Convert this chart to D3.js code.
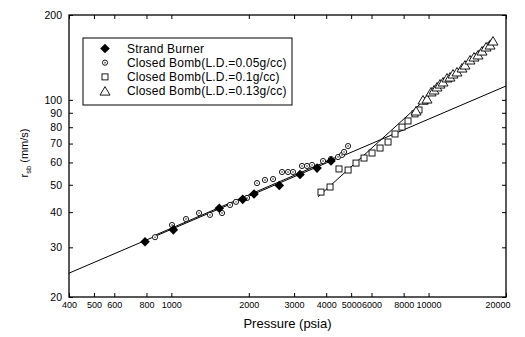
<!DOCTYPE html>
<html><head><meta charset="utf-8">
<script src="https://cdn.jsdelivr.net/npm/d3@7"></script>
<style>
body{margin:0;background:#fff;}
text{font-family:"Liberation Sans",Arial,sans-serif;fill:#000;}
</style></head>
<body><svg id="c" width="525" height="337"></svg>
<script>
// ---- data ----
const xTicks = [400,500,600,800,1000,2000,3000,4000,5000,6000,8000,10000,20000];
const yTicks = [20,30,40,50,60,70,80,90,100,200];
const seriesNames = ["Strand Burner","Closed Bomb(L.D.=0.05g/cc)","Closed Bomb(L.D.=0.1g/cc)","Closed Bomb(L.D.=0.13g/cc)"];
const strandP = [790,1018,1536,1894,2096,2628,3164,3685,4175];
const strandR = [31.4,34.6,41.3,44.4,46.4,49.7,54.4,57.3,60.7];
const ld005P = [864,1006,1140,1281,1413,1574,1691,1784,1969,2153,2312,2485,2693,2842,2971,3221,3368,3523,3888,4175,4445,4608,4693,4865];
const ld005R = [32.6,36.0,37.8,39.7,39.1,39.7,42.4,43.5,44.9,50.7,52.0,52.4,55.5,55.5,55.5,58.3,58.3,58.8,60.7,61.7,62.7,63.8,65.4,68.6];
const ld01P = [3817,4139,4485,4865,5223,5611,6028,6476,6957,7405,7883,8319,8857,9179,9687];
const ld01R = [47.1,49.1,56.9,56.4,59.7,62.2,64.8,67.5,70.9,75.7,80.1,84.2,89.2,92.1,99.1];
const ld013P = [8939,9513,9864,10226,10503,10788,11080,11383,11796,12115,12447,12899,13490,13857,14491,15019,15568,16136,16727,17339,17805];
const ld013R = [91.3,99.9,100.7,106.7,108.4,111.1,113.8,115.7,119.6,120.5,123.5,125.6,129.7,132.9,138.5,141.9,144.3,149.0,154.0,156.5,161.7];
// fitted lines (end points)
const fitStrandP = [400,20000], fitStrandR = [24.3,112];
const fitLd005P = [850,4500], fitLd005R = [32.9,63.3];
const fitBombP = [3717,17800], fitBombR = [45.3,165.7];

// ---- layout ----
const L=69,R=506,T=15,B=297;
const svg=d3.select("#c");
const x=d3.scaleLog().domain([400,20000]).range([L,R]);
const y=d3.scaleLog().domain([20,200]).range([B,T]);

// axes
const ax=svg.append("g").attr("transform",`translate(0,${B})`)
  .call(d3.axisBottom(x).tickValues(xTicks).tickFormat(d3.format("d")).tickSizeInner(-4).tickSizeOuter(0).tickPadding(5));
ax.select(".domain").remove();
ax.selectAll("text").attr("font-size",9).attr("font-family","Liberation Sans, Arial, sans-serif");
ax.selectAll("text").filter(d=>d===20000).attr("text-anchor","end").attr("dx",4);
const axT=svg.append("g").attr("transform",`translate(0,${T})`)
  .call(d3.axisTop(x).tickValues(xTicks).tickFormat("").tickSizeInner(-4).tickSizeOuter(0));
axT.select(".domain").remove();
const ay=svg.append("g").attr("transform",`translate(${L},0)`)
  .call(d3.axisLeft(y).tickValues(yTicks).tickFormat(d3.format("d")).tickSizeInner(-4).tickSizeOuter(0).tickPadding(7));
ay.select(".domain").remove();
ay.selectAll("text").attr("font-size",10.5).attr("font-family","Liberation Sans, Arial, sans-serif");
const ayR=svg.append("g").attr("transform",`translate(${R},0)`)
  .call(d3.axisRight(y).tickValues(yTicks).tickFormat("").tickSizeInner(-4).tickSizeOuter(0));
ayR.select(".domain").remove();
svg.selectAll(".tick line").attr("stroke","#000").attr("stroke-width",1);

svg.append("rect").attr("x",L).attr("y",T).attr("width",R-L).attr("height",B-T)
  .attr("fill","none").attr("stroke","#000").attr("stroke-width",1.3);

// titles
svg.append("text").attr("x",(L+R)/2).attr("y",328).attr("text-anchor","middle")
  .attr("font-size",13).text("Pressure (psia)");
const yt=svg.append("text").attr("transform","translate(28,153) rotate(-90)")
  .attr("text-anchor","middle").attr("font-size",11);
yt.append("tspan").text("r");
yt.append("tspan").attr("font-size",7.5).attr("dy",3).text("sb");
yt.append("tspan").attr("dy",-3).text(" (mm/s)");

// lines
const line=d3.line().x(d=>x(d[0])).y(d=>y(d[1]));
const zip=(a,b)=>a.map((v,i)=>[v,b[i]]);
[[fitStrandP,fitStrandR],[fitLd005P,fitLd005R],[fitBombP,fitBombR]].forEach(([p,r])=>{
  svg.append("path").datum(zip(p,r)).attr("d",line).attr("fill","none").attr("stroke","#000").attr("stroke-width",1);
});

// markers
const sym={
  diamond:(g)=>g.append("path").attr("d","M0,-4.8L4.8,0L0,4.8L-4.8,0Z").attr("fill","#000"),
  circ:(g)=>{g.append("circle").attr("r",2.6).attr("fill","#fff").attr("stroke","#000").attr("stroke-width",0.9);
             g.append("circle").attr("r",0.7).attr("fill","#000");},
  square:(g)=>g.append("rect").attr("x",-3).attr("y",-3).attr("width",6).attr("height",6).attr("fill","#fff").attr("stroke","#000").attr("stroke-width",0.9),
  tri:(g)=>g.append("path").attr("d","M0,-4.5L5,4L-5,4Z").attr("fill","#fff").attr("stroke","#000").attr("stroke-width",0.9)
};
function plot(P,Rv,kind){
  svg.append("g").selectAll("g").data(zip(P,Rv)).join("g")
    .attr("transform",d=>`translate(${x(d[0])},${y(d[1])})`)
    .each(function(){sym[kind](d3.select(this));});
}
plot(ld005P,ld005R,"circ");
plot(ld01P,ld01R,"square");
plot(ld013P,ld013R,"tri");
plot(strandP,strandR,"diamond");

// legend
const lg=svg.append("g");
lg.append("rect").attr("x",83).attr("y",38).attr("width",209).attr("height",67)
  .attr("fill","#fff").attr("stroke","#000").attr("stroke-width",1);
const kinds=["diamond","circ","square","tri"];
seriesNames.forEach((n,i)=>{
  const yy=48.5+i*14.2;
  const g=lg.append("g").attr("transform",`translate(105,${yy})`);
  sym[kinds[i]](g);
  lg.append("text").attr("x",127).attr("y",yy+4).attr("font-size",12).attr("letter-spacing",0.2).text(n);
});
</script></body></html>
